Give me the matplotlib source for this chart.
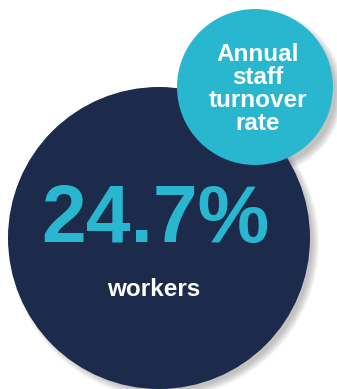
import matplotlib.pyplot as plt
from matplotlib.patches import Circle

# figures shown in the bubbles
value_text = "24.7%"
value_label = "workers"
title_lines = ["Annual", "staff", "turnover", "rate"]

navy = "#1c2a4c"
teal = "#28b7cf"

fig = plt.figure(figsize=(3.37, 3.89), dpi=100)
ax = fig.add_axes([0, 0, 1, 1])
ax.set_xlim(0, 337)
ax.set_ylim(389, 0)
ax.set_aspect("auto")
ax.axis("off")

def soft_shadow(x, y, r, dx=5, dy=5):
    # fake blurred shadow with stacked translucent circles
    for k in range(8):
        ax.add_patch(Circle((x + dx, y + dy), r + 4 - k, color="#555555",
                            alpha=0.05, lw=0, zorder=1))

# big circle
soft_shadow(159, 238, 151)
ax.add_patch(Circle((159, 238), 151, color=navy, lw=0, zorder=2))

# small circle
soft_shadow(255, 87, 78, dx=6, dy=6)
ax.add_patch(Circle((255, 87), 78, color=teal, lw=0, zorder=4))

ax.text(155, 221, value_text, color=teal, fontsize=58, fontweight="bold",
        family="Liberation Sans", ha="center", va="center", zorder=5)
ax.text(154, 290, value_label, color="white", fontsize=17.5, fontweight="bold",
        family="Liberation Sans", ha="center", va="center", zorder=5)
ax.text(258, 89, "\n".join(title_lines), color="white", fontsize=17.5,
        fontweight="bold", family="Liberation Sans", ha="center", va="center",
        linespacing=1.0, zorder=5)

fig.savefig("out.png", dpi=100, facecolor="white")
